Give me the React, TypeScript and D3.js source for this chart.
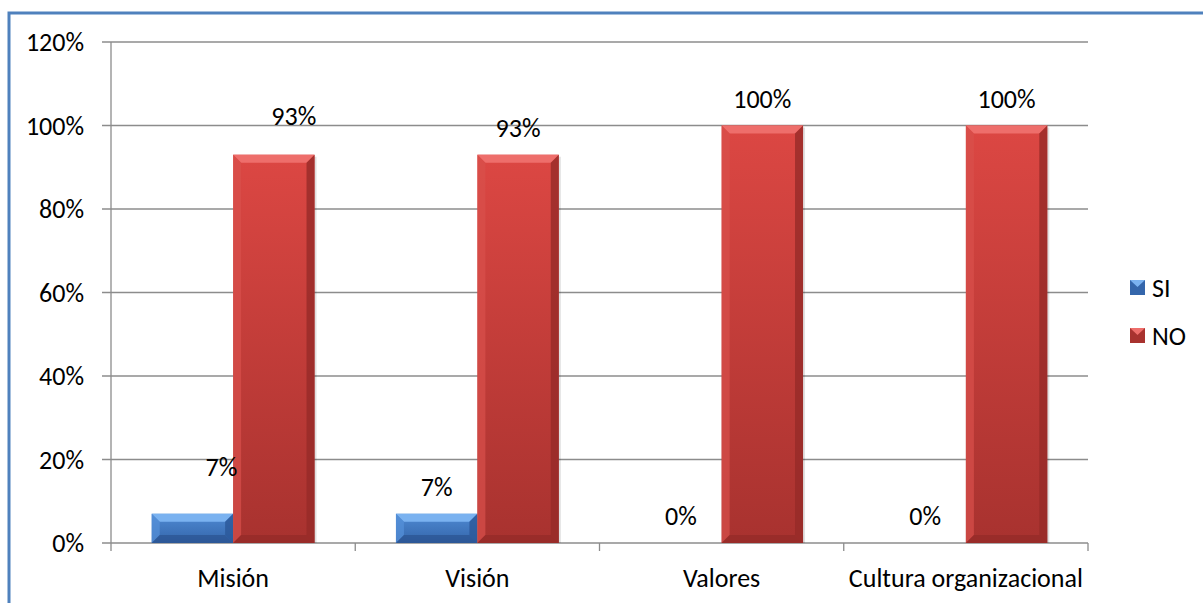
import React from "react";
import * as d3 from "d3";

const categories = ["Misión", "Visión", "Valores", "Cultura organizacional"];
const seriesNames = ["SI", "NO"];
const siValues = [0.07, 0.07, 0, 0];
const noValues = [0.93, 0.93, 1, 1];
const yTicks = [0, 0.2, 0.4, 0.6, 0.8, 1, 1.2];
// manual nudges of the data labels (dx, dy) as moved in the original
const siLabelNudge = [[29, -20], [0, 0], [0, 0], [0, 0]];
const noLabelNudge = [[20, -12], [0, 0], [0, 0], [0, 0]];

const W = 1203;
const H = 603;
const plot = { left: 111, right: 1088, top: 42, bottom: 543 };
const FONT = "Carlito, Calibri, Lato, sans-serif";
const FS = 26;

const palettes = [
  { face1: "#4f8ad3", face2: "#3466ab", bevelTop: "#7ab2f0", bevelL: "#5592da", bevelR: "#2a5899", bevelB: "#284f8a" },
  { face1: "#dc4743", face2: "#a8322f", bevelTop: "#ee6e6b", bevelL: "#d9504c", bevelR: "#962b28", bevelB: "#8f2826" },
];

function Bar({ x, y, w, h, p, id }: any) {
  if (h <= 0.5) return null;
  const b = Math.min(8, h / 2, w / 2);
  const pts = (arr: number[][]) => arr.map((q) => q.join(",")).join(" ");
  return (
    <g>
      <rect x={x + 2} y={y + 2} width={w} height={h - 2} fill="#000" opacity={0.12} />
      <rect x={x} y={y} width={w} height={h} fill={`url(#${id})`} />
      <polygon points={pts([[x, y], [x + w, y], [x + w - b, y + b], [x + b, y + b]])} fill={p.bevelTop} />
      <polygon points={pts([[x, y], [x + b, y + b], [x + b, y + h - b], [x, y + h]])} fill={p.bevelL} opacity={0.7} />
      <polygon points={pts([[x + w, y], [x + w - b, y + b], [x + w - b, y + h - b], [x + w, y + h]])} fill={p.bevelR} opacity={0.8} />
      <polygon points={pts([[x, y + h], [x + b, y + h - b], [x + w - b, y + h - b], [x + w, y + h]])} fill={p.bevelB} opacity={0.6} />
    </g>
  );
}

export default function App() {
  const y = d3.scaleLinear().domain([0, 1.2]).range([plot.bottom, plot.top]);
  const x0 = d3.scaleBand<string>().domain(categories).range([plot.left, plot.right]).paddingInner(0).paddingOuter(0);
  const bw = x0.bandwidth() / 3;
  const fmt = d3.format(".0%");
  const series = [siValues, noValues];
  const nudges = [siLabelNudge, noLabelNudge];

  return (
    <svg width={W} height={H} style={{ position: "absolute", left: 0, top: 0, background: "#fff" }}>
      <defs>
        {palettes.map((p, i) => (
          <linearGradient key={i} id={`g${i}`} x1="0" y1="0" x2="0" y2="1">
            <stop offset="0" stopColor={p.face1} />
            <stop offset="1" stopColor={p.face2} />
          </linearGradient>
        ))}
      </defs>
      <rect x={0} y={0} width={W} height={H} fill="#fff" />
      <rect x={9} y={13} width={W + 20} height={H + 20} fill="none" stroke="#4f81bd" strokeWidth={3} />

      {yTicks.map((t) => (
        <g key={t}>
          <line x1={plot.left - 9} x2={plot.right} y1={y(t)} y2={y(t)} stroke="#8c8c8c" strokeWidth={1.3} />
          <text x={84} y={y(t) + 9} textAnchor="end" fontFamily={FONT} fontSize={FS} fill="#000">
            {fmt(t)}
          </text>
        </g>
      ))}
      <line x1={plot.left} x2={plot.left} y1={plot.top} y2={plot.bottom} stroke="#8c8c8c" strokeWidth={1.3} />
      {[...categories.map((c) => x0(c) as number), plot.right].map((v, i) => (
        <line key={i} x1={v} x2={v} y1={plot.bottom} y2={plot.bottom + 8} stroke="#8c8c8c" strokeWidth={1.3} />
      ))}

      {categories.map((c, ci) => (
        <g key={c}>
          {series.map((vals, si) => {
            const bx = (x0(c) as number) + bw / 2 + si * bw;
            const by = y(vals[ci]);
            return (
              <Bar key={si} x={bx} y={by} w={bw} h={plot.bottom - by} p={palettes[si]} id={`g${si}`} />
            );
          })}
        </g>
      ))}
      {categories.map((c, ci) => (
        <g key={c + "l"}>
          {series.map((vals, si) => {
            const cx = (x0(c) as number) + bw / 2 + si * bw + bw / 2;
            const by = y(vals[ci]);
            const [dx, dy] = nudges[si][ci];
            return (
              <text key={si} x={cx + dx} y={by - 18 + dy} textAnchor="middle" fontFamily={FONT} fontSize={FS} fill="#000">
                {fmt(vals[ci])}
              </text>
            );
          })}
          <text x={(x0(c) as number) + x0.bandwidth() / 2} y={587} textAnchor="middle" fontFamily={FONT} fontSize={FS} fill="#000">
            {c}
          </text>
        </g>
      ))}

      {seriesNames.map((s, i) => {
        const ly = 280 + i * 48;
        const p = palettes[i];
        return (
          <g key={s}>
            <rect x={1130} y={ly} width={15} height={15} fill={p.face2} />
            <polygon points={`1130,${ly} 1145,${ly} 1137.5,${ly + 7}`} fill={p.bevelTop} />
            <text x={1152} y={ly + 17} fontFamily={FONT} fontSize={FS} fill="#000">
              {s}
            </text>
          </g>
        );
      })}
    </svg>
  );
}
